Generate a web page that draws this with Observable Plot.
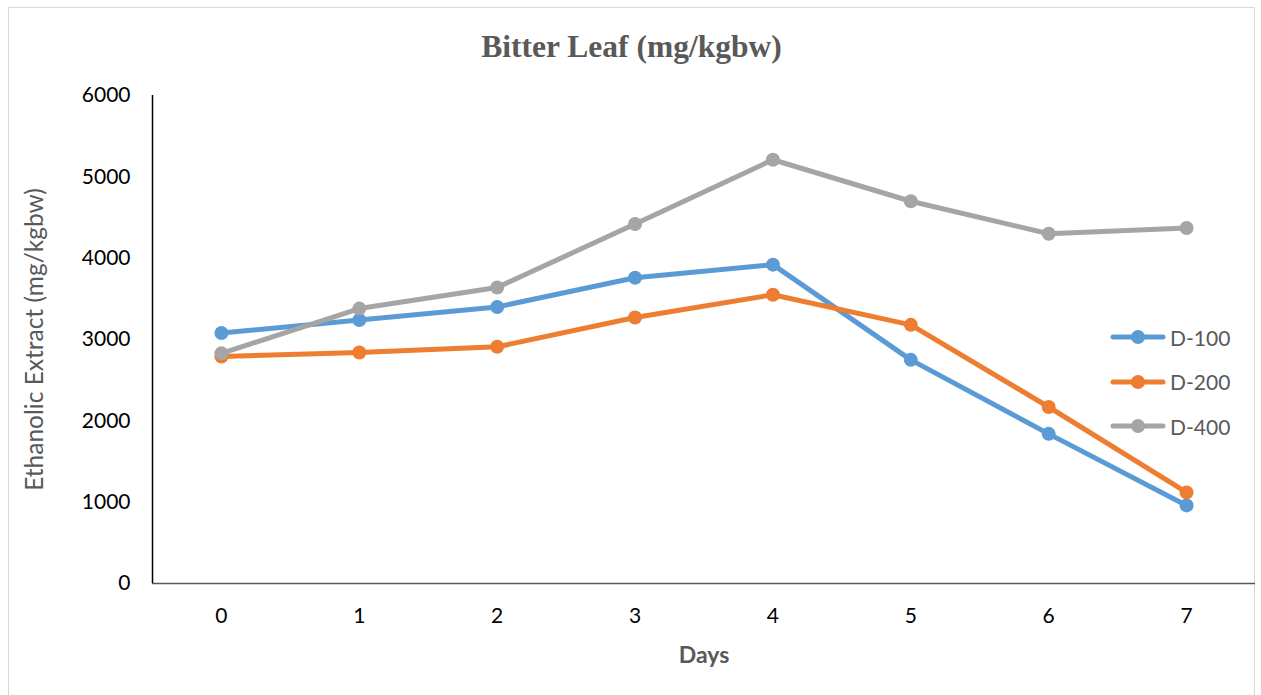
<!DOCTYPE html>
<html>
<head>
<meta charset="utf-8">
<script src="https://cdn.jsdelivr.net/npm/d3@7"></script>
<script src="https://cdn.jsdelivr.net/npm/@observablehq/plot@0.6"></script>
<style>
  html, body { margin: 0; padding: 0; background: #fff; }
  #wrap { position: relative; width: 1261px; height: 695px; overflow: hidden; font-family: Lato, "Noto Sans", sans-serif; }
  #frame { position: absolute; left: 8px; top: 7px; width: 1247px; height: 700px; border: 1.5px solid #d9d9d9; box-sizing: border-box; }
  #title { position: absolute; left: 1px; width: 1261px; top: 31px; line-height: 31px; text-align: center; font-family: "Liberation Serif", "DejaVu Serif", serif; font-weight: bold; font-size: 31.5px; color: #595959; }
  #chart { position: absolute; left: 0; top: 0; }
  #legend { position: absolute; left: 1110px; top: 315px; font-size: 21px; color: #595959; }
  .li { display: flex; align-items: center; height: 44.5px; }
  .li svg { margin-right: 4px; }
</style>
</head>
<body>
<div id="wrap">
  <div id="frame"></div>
  <div id="chart"></div>
  <div id="title">Bitter Leaf (mg/kgbw)</div>
  <div id="legend"></div>
</div>
<script>
const days = [0, 1, 2, 3, 4, 5, 6, 7];
const seriesNames = ["D-100", "D-200", "D-400"];
const d100 = [3080, 3240, 3400, 3760, 3920, 2750, 1840, 960];
const d200 = [2790, 2840, 2910, 3270, 3550, 3180, 2170, 1120];
const d400 = [2830, 3380, 3640, 4420, 5210, 4700, 4300, 4370];
const yTicks = [0, 1000, 2000, 3000, 4000, 5000, 6000];
const colors = ["#5B9BD5", "#ED7D31", "#A5A5A5"];

const seriesValues = [d100, d200, d400];
const data = [];
seriesNames.forEach((s, i) => days.forEach((d, j) => data.push({series: s, day: d, value: seriesValues[i][j]})));

const plot = Plot.plot({
  width: 1261,
  height: 695,
  marginLeft: 152,
  marginRight: 6,
  marginTop: 95,
  marginBottom: 112,
  style: {fontFamily: "Lato, 'Noto Sans', sans-serif", fontSize: "21px", color: "#000", background: "transparent"},
  x: {domain: [-0.5, 7.5], label: null},
  y: {domain: [0, 6000], label: null},
  color: {domain: seriesNames, range: colors},
  marks: [
    Plot.axisX({ticks: days, tickSize: 0, tickPadding: 25, tickFormat: d3.format("d"), label: null, fontSize: 21, fill: "#000"}),
    Plot.axisY({ticks: yTicks, tickSize: 0, tickPadding: 22, tickFormat: d3.format("d"), label: null, fontSize: 21, fill: "#000"}),
    Plot.ruleY([0], {stroke: "#595959", strokeWidth: 1.5, x1: -0.5, x2: 7.5}),
    Plot.ruleX([-0.5], {stroke: "#000", strokeWidth: 1.5, y1: 0, y2: 6000}),
    Plot.line(data, {x: "day", y: "value", z: "series", stroke: "series", strokeWidth: 5}),
    Plot.dot(data, {x: "day", y: "value", fill: "series", r: 7}),
    Plot.text(["Days"], {frameAnchor: "bottom", dy: 79, fontWeight: "bold", fill: "#595959", fontSize: 23}),
    Plot.text(["Ethanolic Extract (mg/kgbw)"], {frameAnchor: "left", dx: -117, rotate: -90, textAnchor: "middle", fill: "#595959", fontSize: 24.5})
  ]
});
document.getElementById("chart").appendChild(plot);

const legend = document.getElementById("legend");
seriesNames.forEach((s, i) => {
  const row = document.createElement("div");
  row.className = "li";
  row.innerHTML = `<svg width="56" height="16"><line x1="3" y1="8" x2="53" y2="8" stroke="${colors[i]}" stroke-width="5" stroke-linecap="round"/><circle cx="28" cy="8" r="7" fill="${colors[i]}"/></svg><span>${s}</span>`;
  legend.appendChild(row);
});
</script>
</body>
</html>
